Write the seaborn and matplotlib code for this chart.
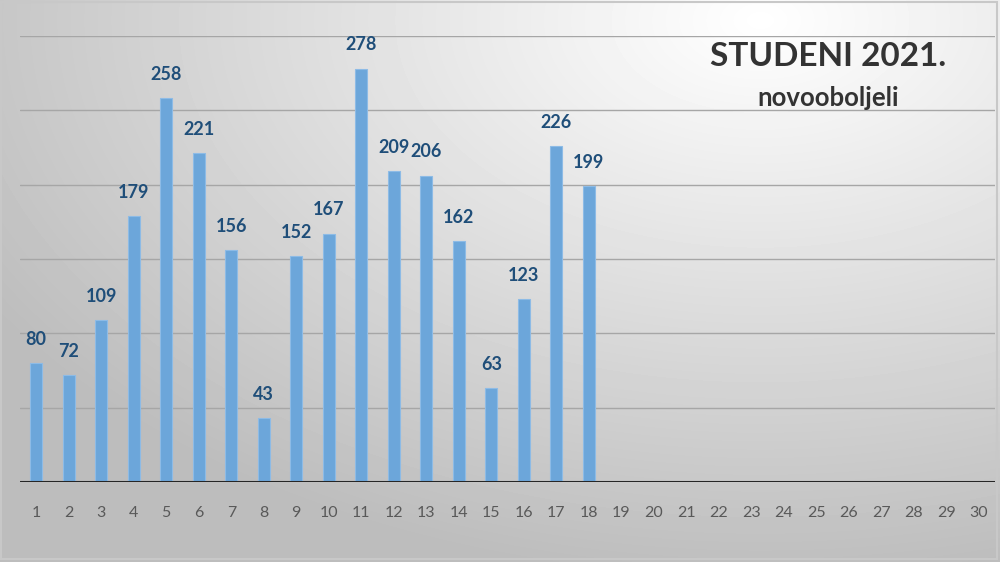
import numpy as np
import pandas as pd
import matplotlib
matplotlib.use('Agg')
import matplotlib.pyplot as plt
import seaborn as sns
from matplotlib.patches import Rectangle

# Data
days = list(range(1, 31))
day_values = [80, 72, 109, 179, 258, 221, 156, 43, 152, 167, 278, 209, 206, 162, 63, 123, 226, 199]
day_labels = [str(d) for d in days]

df = pd.DataFrame({'dan': [str(d) for d in days[:len(day_values)]], 'broj': day_values})

sns.set_theme(style='white')
plt.rcParams['font.family'] = ['Lato', 'DejaVu Sans']

fig = plt.figure(figsize=(10, 5.62), dpi=100)

# Gradient background
bg = fig.add_axes([0, 0, 1, 1], zorder=-1)
yy, xx = np.mgrid[0:562, 0:1000]
d = np.sqrt(((xx - 760) / 900.0) ** 2 + ((yy - 20) / 560.0) ** 2)
shade = np.clip(1.0 - 0.26 * d, 0.74, 1.0)
bg.imshow(shade, cmap='gray', vmin=0, vmax=1, aspect='auto', extent=[0, 1, 0, 1], origin='upper')
bg.set_axis_off()
fig.patches.append(Rectangle((0.001, 0.006), 0.996, 0.99, transform=fig.transFigure,
                             fill=False, edgecolor='#c8c8c8', linewidth=1.5))

ax = fig.add_axes([0.02, 80 / 562, 0.975, 446 / 562])
ax.patch.set_alpha(0)

sns.barplot(data=df, x='dan', y='broj', order=day_labels, color='#6ca6da',
            width=0.37, edgecolor='#8dbbe6', linewidth=0.8, saturation=1, ax=ax)

ax.bar_label(ax.containers[0], fmt='%d', padding=11, color='#1f4e79',
             fontsize=13, fontweight='bold')

ax.set_ylim(0, 300)
ax.set_yticks(np.arange(0, 301, 50))
ax.set_yticklabels([])
ax.yaxis.grid(True, color='#a6a6a6', linewidth=1)
ax.set_axisbelow(True)
ax.axhline(0, color='#262626', linewidth=2.2, zorder=5)
ax.set_xlim(-0.5, 29.5)

for s in ax.spines.values():
    s.set_visible(False)
ax.tick_params(axis='x', length=0, pad=17, labelsize=11.5, labelcolor='#595959')
ax.tick_params(axis='y', length=0)
ax.set_xlabel('')
ax.set_ylabel('')

fig.text(0.828, 0.899, 'STUDENI 2021.', ha='center', va='center', fontsize=24,
         fontweight='bold', color='#333333')
fig.text(0.828, 0.826, 'novooboljeli', ha='center', va='center', fontsize=18.5,
         fontweight='bold', color='#333333')

fig.savefig('out.png', dpi=100)
